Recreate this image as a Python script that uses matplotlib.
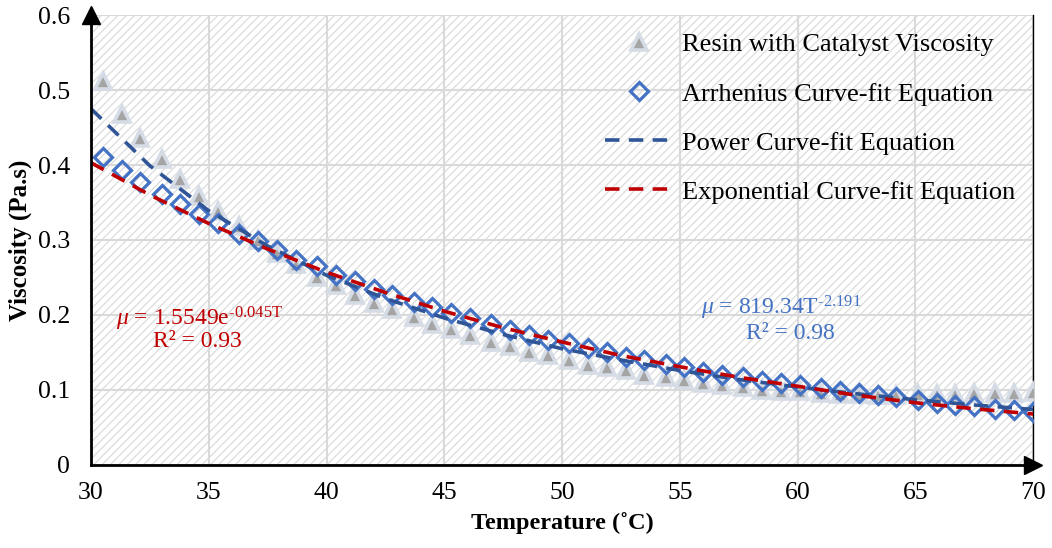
import matplotlib
matplotlib.use('Agg')
import matplotlib.pyplot as plt
from matplotlib.patches import Rectangle

plt.rcParams['font.family'] = ['Liberation Serif', 'DejaVu Serif']
plt.rcParams['mathtext.fontset'] = 'custom'
plt.rcParams['mathtext.rm'] = 'Liberation Serif'
plt.rcParams['mathtext.it'] = 'Liberation Serif:italic'
plt.rcParams['hatch.linewidth'] = 0.9

# measured temperatures (deg C)
temperature = [30.5, 31.3, 32.1, 33.0, 33.8, 34.6, 35.4, 36.3, 37.1, 37.9,
               38.7, 39.6, 40.4, 41.2, 42.0, 42.8, 43.7, 44.5, 45.3, 46.1,
               47.0, 47.8, 48.6, 49.4, 50.3, 51.1, 51.9, 52.7, 53.5, 54.4,
               55.2, 56.0, 56.8, 57.7, 58.5, 59.3, 60.1, 61.0, 61.8, 62.6,
               63.4, 64.2, 65.1, 65.9, 66.7, 67.5, 68.4, 69.2, 70.0]

resin_viscosity = [0.512, 0.468, 0.436, 0.408, 0.382, 0.359, 0.338, 0.319, 0.300, 0.282,
                   0.268, 0.251, 0.240, 0.227, 0.216, 0.208, 0.197, 0.188, 0.181, 0.173,
                   0.164, 0.158, 0.151, 0.147, 0.140, 0.133, 0.131, 0.126, 0.120, 0.117,
                   0.113, 0.109, 0.107, 0.104, 0.100, 0.098, 0.098, 0.096, 0.095, 0.094,
                   0.093, 0.093, 0.094, 0.095, 0.095, 0.096, 0.096, 0.096, 0.097]

arrhenius = [0.411, 0.394, 0.378, 0.362, 0.348, 0.335, 0.322, 0.308, 0.298, 0.286,
             0.273, 0.265, 0.253, 0.245, 0.234, 0.227, 0.217, 0.210, 0.202, 0.196,
             0.188, 0.180, 0.173, 0.167, 0.162, 0.156, 0.151, 0.144, 0.140, 0.135,
             0.130, 0.124, 0.120, 0.117, 0.112, 0.109, 0.106, 0.103, 0.099, 0.096,
             0.093, 0.090, 0.087, 0.083, 0.080, 0.078, 0.074, 0.073, 0.070]

# trend lines
trend_temp = [30, 32.5, 35, 37.5, 40, 42.5, 45, 47.5, 50, 52.5, 55, 57.5, 60, 62.5, 65, 67.5, 70]
power_fit = [0.475, 0.399, 0.339, 0.292, 0.253, 0.222, 0.196, 0.174, 0.155,
             0.140, 0.126, 0.114, 0.104, 0.095, 0.087, 0.080, 0.074]
exp_fit = [0.403, 0.360, 0.322, 0.288, 0.257, 0.230, 0.205, 0.183, 0.164,
           0.146, 0.131, 0.117, 0.105, 0.093, 0.083, 0.075, 0.068]

x_ticks = [30, 35, 40, 45, 50, 55, 60, 65, 70]
y_ticks = [0, 0.1, 0.2, 0.3, 0.4, 0.5, 0.6]

fig = plt.figure(figsize=(10.52, 5.48), dpi=100)
ax = fig.add_axes([0.0865, 0.1515, 0.8955, 0.8211])

# patterned plot area
ax.add_patch(Rectangle((0, 0), 1, 1, transform=ax.transAxes, facecolor='white',
                       edgecolor='#dcdcdc', hatch='////', linewidth=0, zorder=0))
ax.grid(True, color='#d9d9d9', linewidth=1.5, zorder=1)
ax.set_axisbelow(True)

ax.plot(temperature, resin_viscosity, linestyle='none', marker='^', markersize=12,
        markerfacecolor='#a5a5a5', markeredgecolor='#d6dce5', markeredgewidth=2.6,
        label='Resin with Catalyst Viscosity', zorder=3)
ax.plot(temperature, arrhenius, linestyle='none', marker='D', markersize=9.5,
        markerfacecolor='none', markeredgecolor='#4472c4', markeredgewidth=2.3,
        label='Arrhenius Curve-fit Equation', zorder=4)
ax.plot(trend_temp, power_fit, color='#2f5597', linewidth=2.6, dashes=(4, 2.6),
        label='Power Curve-fit Equation', zorder=5)
ax.plot(trend_temp, exp_fit, color='#c00000', linewidth=2.6, dashes=(4, 2.6),
        label='Exponential Curve-fit Equation', zorder=6)

ax.set_xlim(30, 70)
ax.set_ylim(0, 0.6)
ax.set_xticks(x_ticks)
ax.set_yticks(y_ticks)
ax.set_yticklabels(['0', '0.1', '0.2', '0.3', '0.4', '0.5', '0.6'])
ax.tick_params(length=0, labelsize=18.5)
ax.tick_params(axis='x', pad=12)
ax.tick_params(axis='y', pad=15)

ax.spines['top'].set_visible(False)
ax.spines['left'].set_linewidth(2)
ax.spines['bottom'].set_linewidth(2)
ax.spines['right'].set_linewidth(1)
ax.spines['left'].set_zorder(7)
ax.spines['bottom'].set_zorder(7)

# axis arrow heads
ax.plot([0], [1], marker='^', markersize=13, color='black', transform=ax.transAxes, clip_on=False, zorder=8)
ax.plot([1], [0], marker='>', markersize=13, color='black', transform=ax.transAxes, clip_on=False, zorder=8)

ax.set_xlabel('Temperature (˚C)', fontsize=17.5, fontweight='bold', labelpad=6)
ax.set_ylabel('Viscosity (Pa.s)', fontsize=18, fontweight='bold', labelpad=4)

# fit equations
ax.text(34.6, 0.195, r'$\mu$ = 1.5549e$^{\mathregular{‐0.045T}}$', color='#c00000', fontsize=17, ha='center', va='center', zorder=9)
ax.text(34.5, 0.164, 'R² = 0.93', color='#c00000', fontsize=17, ha='center', va='center', zorder=9)
ax.text(59.3, 0.209, r'$\mu$ = 819.34T$^{\mathregular{‐2.191}}$', color='#4472c4', fontsize=17, ha='center', va='center', zorder=9)
ax.text(59.7, 0.175, 'R² = 0.98', color='#4472c4', fontsize=17, ha='center', va='center', zorder=9)

leg = ax.legend(loc='upper left', bbox_to_anchor=(0.5456, 0.960), frameon=False, fontsize=19,
                handlelength=2.55, handletextpad=0.35, labelspacing=0.97,
                borderpad=0, borderaxespad=0)

fig.savefig('out.png', dpi=100)
